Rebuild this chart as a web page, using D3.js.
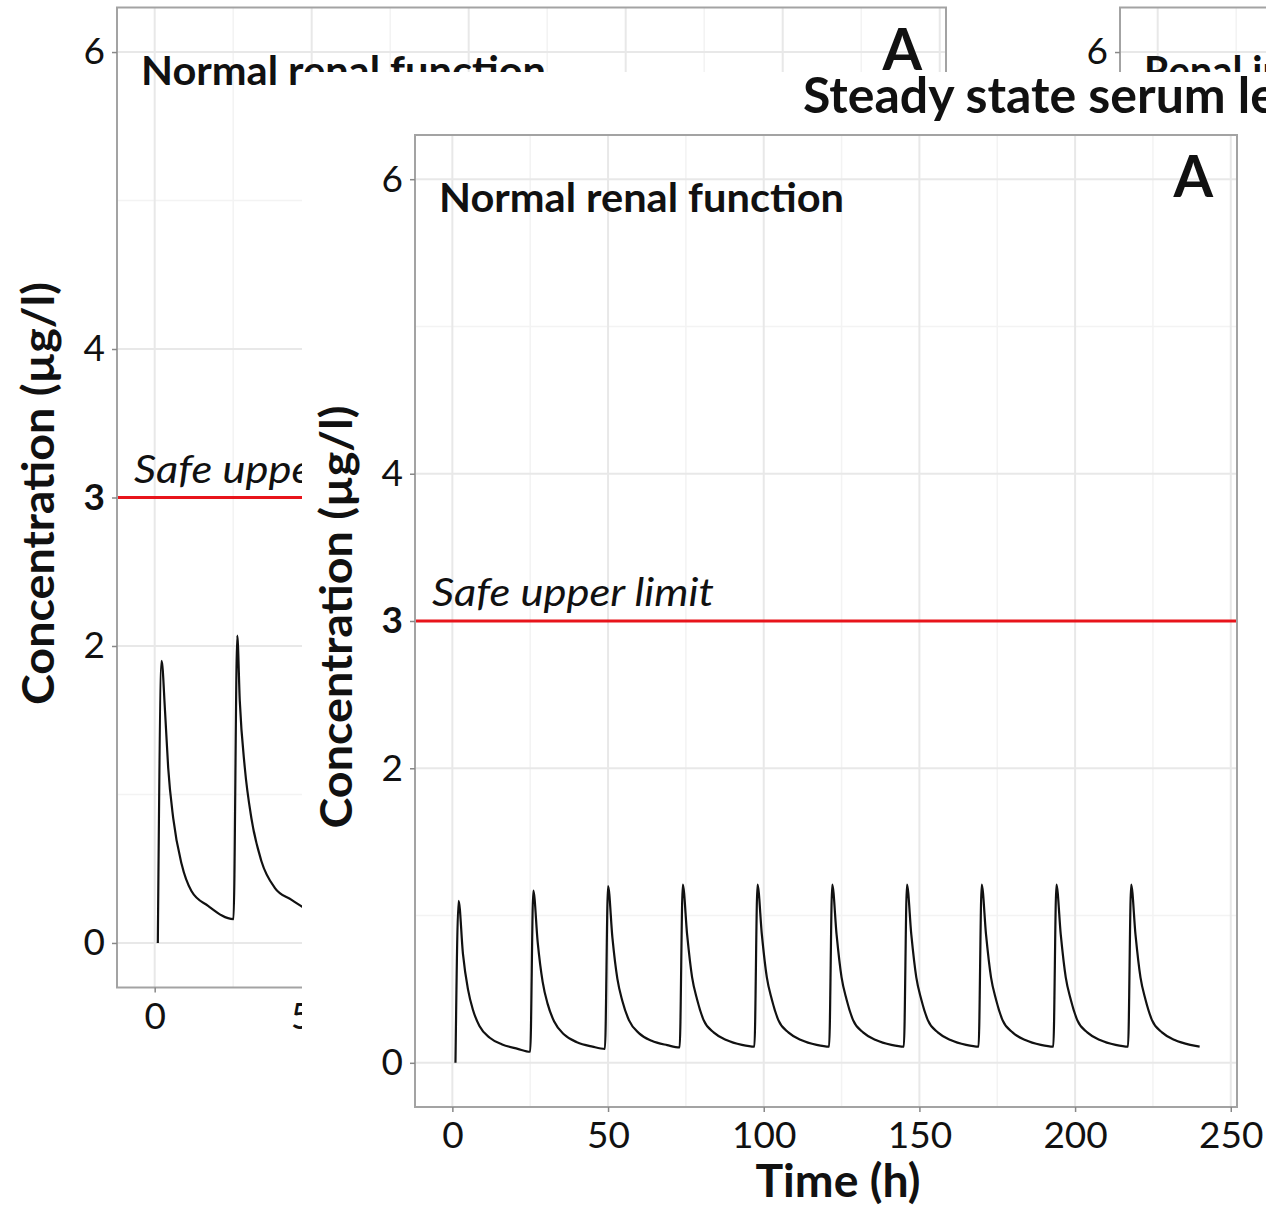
<!DOCTYPE html>
<html>
<head>
<meta charset="utf-8">
<title>Steady state serum levels</title>
<script src="https://d3js.org/d3.v7.min.js"></script>
<style>
  body { margin: 0; background: #fff; }
  svg { display: block; font-family: Lato, "Open Sans", sans-serif; }
</style>
</head>
<body>
<div id="chart"></div>
<script>
// axis set-up shared by every panel
const xDomain = [-12, 252];
const yDomain = [-0.3, 6.3];
const xMajor = [0, 50, 100, 150, 200, 250];
const xMinor = [25, 75, 125, 175, 225];
const yMajor = [0, 2, 4, 6];
const yMinor = [1, 3, 5];
const yTickValues = [0, 2, 3, 4, 6];
const safeLimit = 3;

// front figure: concentration (µg/l) against time (h), one dose every 24 h
const timeH = [
  1, 2, 3.4, 5, 6.6, 8.7, 12, 16, 21,
  25, 26, 27.4, 29, 30.6, 32.7, 36, 40, 45,
  49, 50, 51.4, 53, 54.6, 56.7, 60, 64, 69,
  73, 74, 75.4, 77, 78.6, 80.7, 84, 88, 93,
  97, 98, 99.4, 101, 102.6, 104.7, 108, 112, 117,
  121, 122, 123.4, 125, 126.6, 128.7, 132, 136, 141,
  145, 146, 147.4, 149, 150.6, 152.7, 156, 160, 165,
  169, 170, 171.4, 173, 174.6, 176.7, 180, 184, 189,
  193, 194, 195.4, 197, 198.6, 200.7, 204, 208, 213,
  217, 218, 219.4, 221, 222.6, 224.7, 228, 232, 237,
  240
];
const conc = [
  0, 1.10, 0.74, 0.50, 0.36, 0.25, 0.17, 0.125, 0.095,
  0.075, 1.17, 0.82, 0.55, 0.40, 0.28, 0.19, 0.14, 0.11,
  0.095, 1.20, 0.85, 0.57, 0.42, 0.29, 0.20, 0.15, 0.12,
  0.104, 1.21, 0.87, 0.58, 0.43, 0.29, 0.205, 0.155, 0.122,
  0.11, 1.21, 0.87, 0.58, 0.43, 0.29, 0.205, 0.155, 0.122,
  0.11, 1.21, 0.87, 0.58, 0.43, 0.29, 0.205, 0.155, 0.122,
  0.11, 1.21, 0.87, 0.58, 0.43, 0.29, 0.205, 0.155, 0.122,
  0.11, 1.21, 0.87, 0.58, 0.43, 0.29, 0.205, 0.155, 0.122,
  0.11, 1.21, 0.87, 0.58, 0.43, 0.29, 0.205, 0.155, 0.122,
  0.11, 1.21, 0.87, 0.58, 0.43, 0.29, 0.205, 0.155, 0.122,
  0.11
];

// figure behind it (only the first two doses are visible)
const backTimeH = [1, 2.2, 3.3, 4.3, 5.9, 8.6, 11.7, 17, 25.1, 26.3, 27.1, 28.7, 30.8, 34, 38.3, 43.6, 48];
const backConc = [0, 1.90, 1.56, 1.18, 0.84, 0.53, 0.35, 0.25, 0.16, 2.07, 1.63, 1.18, 0.84, 0.55, 0.37, 0.29, 0.23];

const W = 1266, H = 1207;

const svg = d3.select("#chart").append("svg")
  .attr("width", W)
  .attr("height", H);

function drawPanel(g, o) {
  const x = d3.scaleLinear().domain(xDomain).range([o.left, o.left + o.width]);
  const y = d3.scaleLinear().domain(yDomain).range([o.top + o.height, o.top]);
  const right = o.left + o.width, bottom = o.top + o.height;

  g.append("rect")
    .attr("x", o.left).attr("y", o.top)
    .attr("width", o.width).attr("height", o.height)
    .attr("fill", "#fff");

  // grid
  g.append("g").selectAll("line").data(xMinor).join("line")
    .attr("x1", d => x(d)).attr("x2", d => x(d))
    .attr("y1", o.top).attr("y2", bottom)
    .attr("stroke", "#f3f3f3").attr("stroke-width", 1.5);
  g.append("g").selectAll("line").data(yMinor).join("line")
    .attr("x1", o.left).attr("x2", right)
    .attr("y1", d => y(d)).attr("y2", d => y(d))
    .attr("stroke", "#f3f3f3").attr("stroke-width", 1.5);
  g.append("g").selectAll("line").data(xMajor).join("line")
    .attr("x1", d => x(d)).attr("x2", d => x(d))
    .attr("y1", o.top).attr("y2", bottom)
    .attr("stroke", "#e8e8e8").attr("stroke-width", 2);
  g.append("g").selectAll("line").data(yMajor).join("line")
    .attr("x1", o.left).attr("x2", right)
    .attr("y1", d => y(d)).attr("y2", d => y(d))
    .attr("stroke", "#e8e8e8").attr("stroke-width", 2);

  if (o.series) {
    // safe upper limit
    g.append("line")
      .attr("x1", o.left).attr("x2", right)
      .attr("y1", y(safeLimit)).attr("y2", y(safeLimit))
      .attr("stroke", "#e8141b").attr("stroke-width", 3);

    g.append("text")
      .attr("x", o.left + 17).attr("y", y(safeLimit) - 15)
      .attr("font-size", 39).attr("font-style", "italic")
      .attr("textLength", 282).attr("lengthAdjust", "spacingAndGlyphs")
      .attr("fill", "#111")
      .text("Safe upper limit");

    const pts = o.series.t.map((t, i) => [t, o.series.c[i]]);
    g.append("path")
      .datum(pts)
      .attr("fill", "none")
      .attr("stroke", "#111")
      .attr("stroke-width", 2.2)
      .attr("d", d3.line().x(d => x(d[0])).y(d => y(d[1])).curve(d3.curveMonotoneX));
  }

  // panel border
  g.append("rect")
    .attr("x", o.left).attr("y", o.top)
    .attr("width", o.width).attr("height", o.height)
    .attr("fill", "none").attr("stroke", "#a3a3a3").attr("stroke-width", 2);

  // axes
  const yAxis = g.append("g")
    .attr("transform", `translate(${o.left},0)`)
    .call(d3.axisLeft(y).tickValues(yTickValues).tickSize(5).tickPadding(7).tickFormat(d3.format("d")));
  yAxis.select(".domain").remove();
  yAxis.selectAll(".tick line").attr("stroke", "#888").attr("stroke-width", 1.5);
  yAxis.selectAll(".tick text")
    .attr("font-size", 37).attr("font-family", "Lato, sans-serif").attr("fill", "#111")
    .attr("font-weight", d => d === safeLimit ? "bold" : "normal");

  const xAxis = g.append("g")
    .attr("transform", `translate(0,${bottom})`)
    .call(d3.axisBottom(x).tickValues(xMajor).tickSize(5).tickPadding(10).tickFormat(d3.format("d")));
  xAxis.select(".domain").remove();
  xAxis.selectAll(".tick line").attr("stroke", "#888").attr("stroke-width", 1.5);
  xAxis.selectAll(".tick text")
    .attr("font-size", 37).attr("font-family", "Lato, sans-serif").attr("fill", "#111");

  // axis titles
  g.append("text")
    .attr("transform", `translate(${o.left - 63},${o.top + o.height / 2 - 4}) rotate(-90)`)
    .attr("text-anchor", "middle")
    .attr("font-size", 44).attr("font-weight", "bold").attr("fill", "#111")
    .attr("textLength", 423).attr("lengthAdjust", "spacingAndGlyphs")
    .text("Concentration (µg/l)");

  g.append("text")
    .attr("x", o.left + 423).attr("y", bottom + 90)
    .attr("text-anchor", "middle")
    .attr("font-size", 45).attr("font-weight", "bold").attr("fill", "#111")
    .attr("textLength", 165).attr("lengthAdjust", "spacingAndGlyphs")
    .text("Time (h)");

  // labels inside the panel
  g.append("text")
    .attr("x", o.left + 24).attr("y", o.top + 77)
    .attr("font-size", 40).attr("font-weight", "bold").attr("fill", "#111")
    .attr("textLength", o.labelLength).attr("lengthAdjust", "spacingAndGlyphs")
    .text(o.label);

  if (o.letter) {
    g.append("text")
      .attr("x", right - 24).attr("y", o.top + 62)
      .attr("text-anchor", "end")
      .attr("font-size", 57).attr("font-weight", "bold").attr("fill", "#111")
      .text(o.letter);
  }

  if (o.title) {
    g.append("text")
      .attr("x", o.left + 388).attr("y", o.top - 22)
      .attr("font-size", 50).attr("font-weight", "bold").attr("fill", "#111")
      .text(o.title);
  }
}

// background figure
const back = svg.append("g");
drawPanel(back, {
  left: 117, top: 7.5, width: 829, height: 980,
  series: { t: backTimeH, c: backConc },
  label: "Normal renal function", labelLength: 405, letter: "A",
  title: "Steady state serum levels"
});
drawPanel(back, {
  left: 1120, top: 7.5, width: 829, height: 980,
  label: "Renal impairment", labelLength: 312, letter: "B"
});

// front figure on a white sheet
const front = svg.append("g");
front.append("rect")
  .attr("x", 302).attr("y", 72)
  .attr("width", W - 302).attr("height", H - 72)
  .attr("fill", "#fff");
drawPanel(front, {
  left: 415, top: 135, width: 822, height: 972,
  series: { t: timeH, c: conc },
  label: "Normal renal function", labelLength: 405, letter: "A",
  title: "Steady state serum levels"
});
</script>
</body>
</html>
